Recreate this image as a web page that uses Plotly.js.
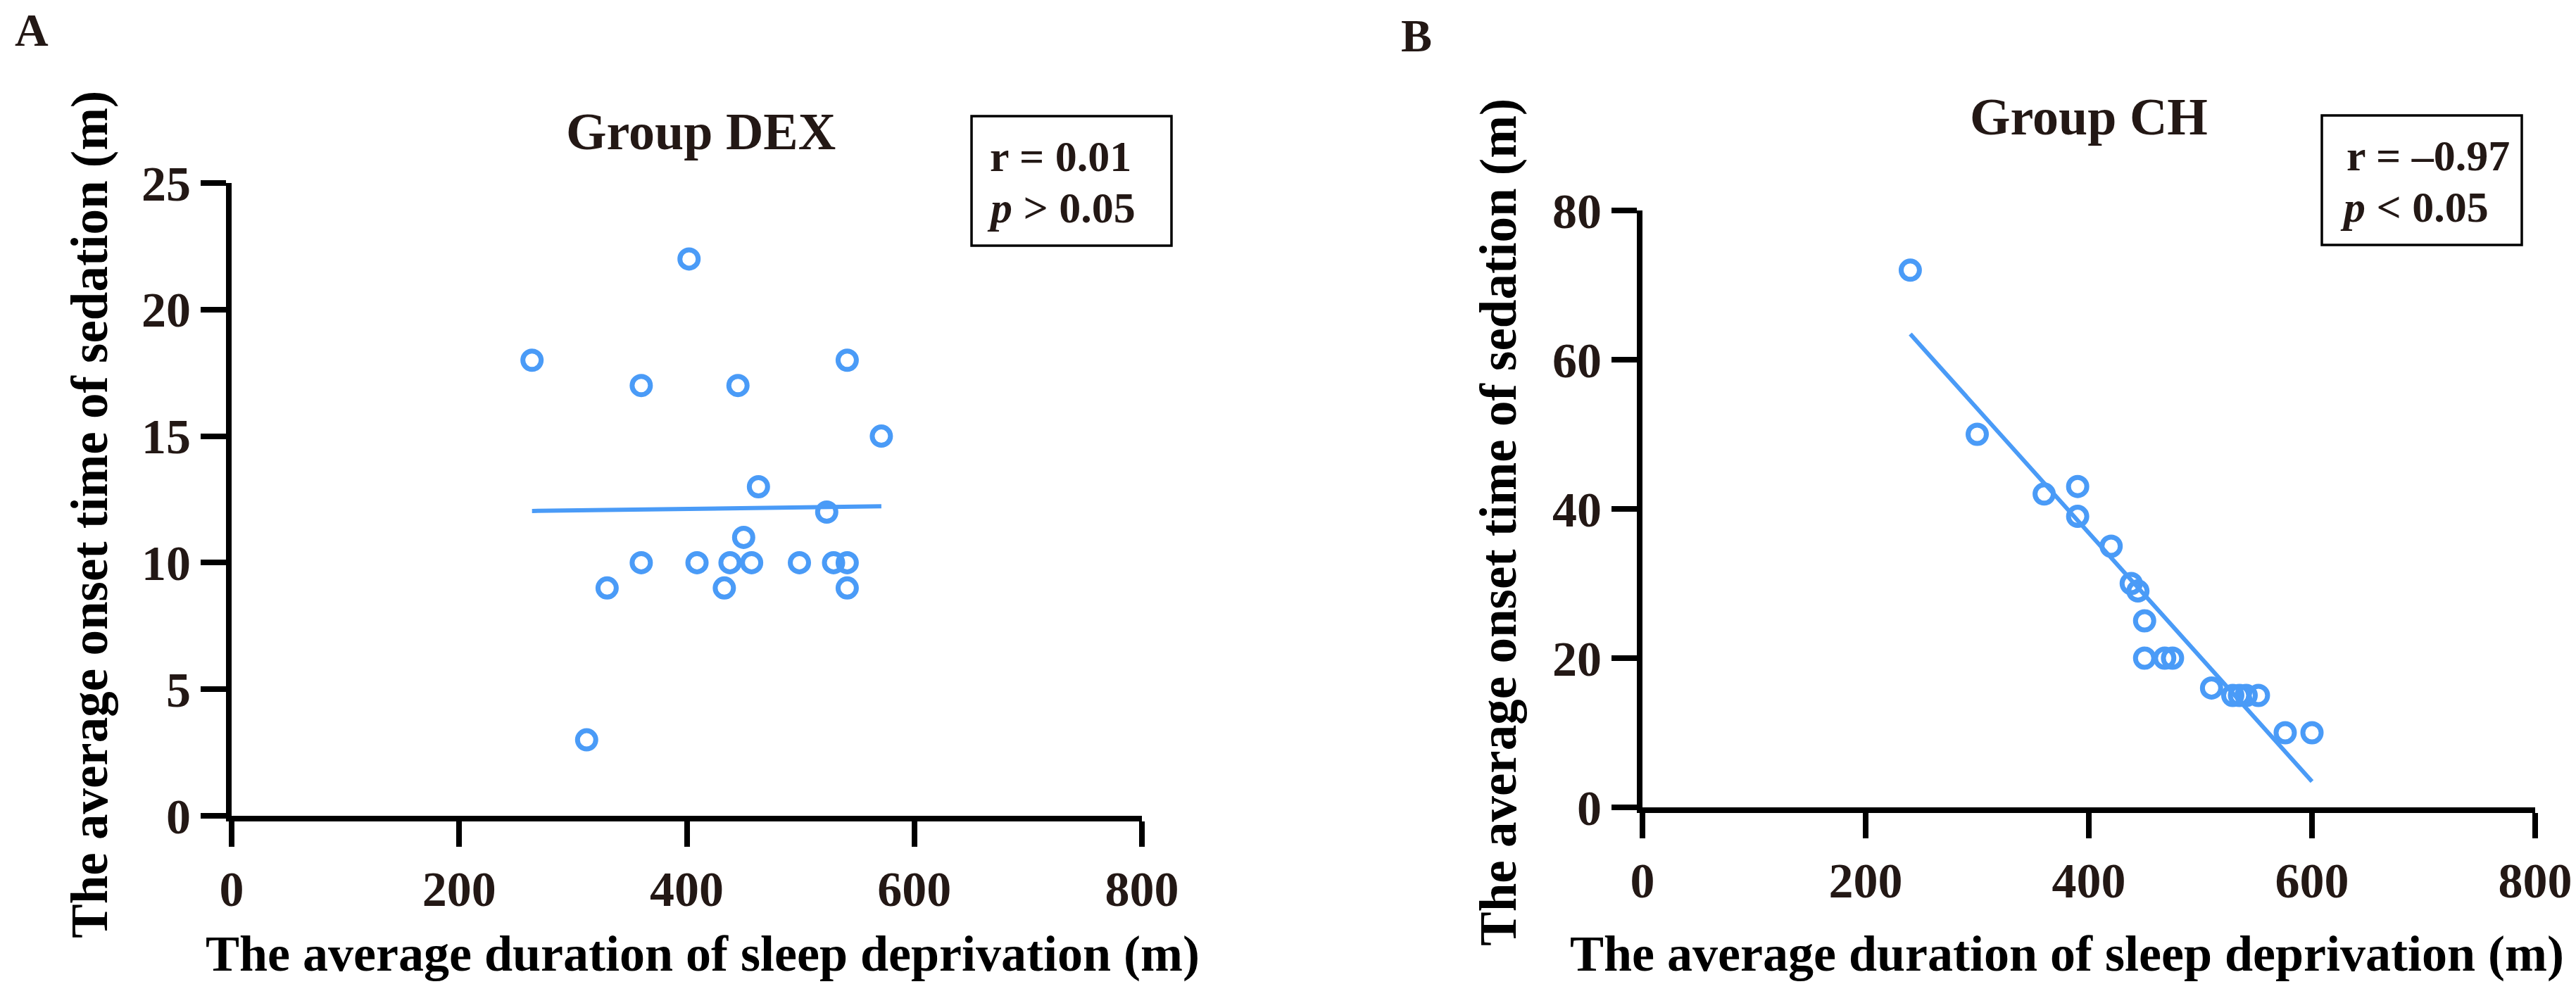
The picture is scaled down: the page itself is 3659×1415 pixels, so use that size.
<!DOCTYPE html>
<html>
<head>
<meta charset="utf-8">
<script src="https://cdn.plot.ly/plotly-3.0.1.min.js"></script>
<style>
  html, body { margin: 0; padding: 0; background: #ffffff; }
  #chart { width: 3659px; height: 1415px; }
</style>
</head>
<body>
<div id="chart"></div>
<script>
// ---- Data ----
const dexDuration = [402, 264, 360, 445, 541, 571, 463, 523, 450, 360, 409, 438, 457, 499, 529, 541, 330, 433, 541, 312];
const dexOnset    = [22, 18, 17, 17, 18, 15, 13, 12, 11, 10, 10, 10, 10, 10, 10, 10, 9, 9, 9, 3];
const chDuration  = [240, 300, 360, 390, 390, 420, 438, 444, 450, 450, 468, 475, 510, 529, 535, 541, 552, 576, 600];
const chOnset     = [72, 50, 42, 43, 39, 35, 30, 29, 25, 20, 20, 20, 16, 15, 15, 15, 15, 10, 10];

const xTicks = [0, 200, 400, 600, 800];
const yTicksDex = [0, 5, 10, 15, 20, 25];
const yTicksCh = [0, 20, 40, 60, 80];

const panelLabels = ['A', 'B'];
const groupTitles = ['Group DEX', 'Group CH'];
const statLinesDex = ['r = 0.01', '<i>p</i> > 0.05'];
const statLinesCh = ['r = –0.97', '<i>p</i> < 0.05'];
const xTitle = 'The average duration of sleep deprivation (m)';
const yTitle = 'The average onset time of sedation (m)';

// ---- Least-squares fit line over the data range ----
function fitLine(xs, ys) {
  const n = xs.length;
  const mx = xs.reduce((a, b) => a + b, 0) / n;
  const my = ys.reduce((a, b) => a + b, 0) / n;
  let sxy = 0, sxx = 0;
  for (let i = 0; i < n; i++) { sxy += (xs[i] - mx) * (ys[i] - my); sxx += (xs[i] - mx) ** 2; }
  const b = sxy / sxx, a = my - b * mx;
  const x0 = Math.min(...xs), x1 = Math.max(...xs);
  return { x: [x0, x1], y: [a + b * x0, a + b * x1] };
}
const fitDex = fitLine(dexDuration, dexOnset);
const fitCh = fitLine(chDuration, chOnset);

// ---- Styling ----
const W = 3659, H = 1415;
const px = v => v / W;
const py = v => 1 - v / H;
const blue = '#4a9bf7';
const ink = '#231815';
const serif = 'Liberation Serif, Times New Roman, serif';

const markerStyle = { symbol: 'circle-open', size: 26, color: blue, line: { width: 7, color: blue } };
const lineStyle = { color: blue, width: 6 };

const traces = [
  { type: 'scatter', mode: 'markers', x: dexDuration, y: dexOnset, xaxis: 'x', yaxis: 'y', marker: markerStyle, cliponaxis: false, hoverinfo: 'x+y' },
  { type: 'scatter', mode: 'lines', x: fitDex.x, y: fitDex.y, xaxis: 'x', yaxis: 'y', line: lineStyle, hoverinfo: 'skip' },
  { type: 'scatter', mode: 'markers', x: chDuration, y: chOnset, xaxis: 'x2', yaxis: 'y2', marker: markerStyle, cliponaxis: false, hoverinfo: 'x+y' },
  { type: 'scatter', mode: 'lines', x: fitCh.x, y: fitCh.y, xaxis: 'x2', yaxis: 'y2', line: lineStyle, hoverinfo: 'skip' }
];

function axisBase(extra) {
  return Object.assign({
    showline: true, linewidth: 8, linecolor: '#000000',
    ticks: 'outside', ticklen: 36, tickwidth: 8, tickcolor: '#000000',
    showgrid: false, zeroline: false, fixedrange: true,
    tickfont: { family: serif, size: 70, color: ink, weight: 'bold' },
    tickmode: 'array'
  }, extra);
}

const layout = {
  width: W, height: H,
  margin: { l: 0, r: 0, t: 0, b: 0 },
  paper_bgcolor: '#ffffff', plot_bgcolor: '#ffffff',
  showlegend: false,
  font: { family: serif, color: ink },
  xaxis: axisBase({ domain: [px(329), px(1622)], range: [0, 800], anchor: 'y', tickvals: xTicks }),
  yaxis: axisBase({ domain: [py(1159), py(260)], range: [0, 25], anchor: 'x', tickvals: yTicksDex }),
  xaxis2: axisBase({ domain: [px(2333), px(3601)], range: [0, 800], anchor: 'y2', tickvals: xTicks }),
  yaxis2: axisBase({ domain: [py(1147), py(299)], range: [0, 80], anchor: 'x2', tickvals: yTicksCh }),
  shapes: [
    { type: 'rect', xref: 'paper', yref: 'paper', x0: px(1380), x1: px(1664), y0: py(349), y1: py(165),
      line: { color: '#000000', width: 3.5 }, fillcolor: 'rgba(0,0,0,0)' },
    { type: 'rect', xref: 'paper', yref: 'paper', x0: px(3298), x1: px(3582), y0: py(348), y1: py(164),
      line: { color: '#000000', width: 3.5 }, fillcolor: 'rgba(0,0,0,0)' }
  ],
  annotations: []
};

function addText(text, xPix, yPix, size, xanchor, angle, color) {
  layout.annotations.push({
    xref: 'paper', yref: 'paper', x: px(xPix), y: py(yPix),
    xanchor: xanchor || 'left', yanchor: 'middle', showarrow: false, text: text,
    textangle: angle || 0,
    font: { family: serif, size: size, color: color || ink, weight: 'bold' }
  });
}
// Panel labels
addText(panelLabels[0], 19, 43, 66, 'left');
addText(panelLabels[1], 1988, 50, 66, 'left');
// Group titles
addText(groupTitles[0], 995, 187, 74, 'center');
addText(groupTitles[1], 2967, 166, 74, 'center');
// Stats
addText(statLinesDex[0], 1404, 222, 62, 'left');
addText(statLinesDex[1], 1400, 295, 62, 'left');
addText(statLinesCh[0], 3331, 221, 62, 'left');
addText(statLinesCh[1], 3322, 294, 62, 'left');
// Axis titles
addText(xTitle, 998, 1355, 72, 'center', 0, '#000000');
addText(xTitle, 2936, 1355, 72, 'center', 0, '#000000');
addText(yTitle, 127, 731, 73, 'center', -90, '#000000');
addText(yTitle, 2128, 742, 73, 'center', -90, '#000000');

Plotly.newPlot('chart', traces, layout, { displayModeBar: false, staticPlot: true });
</script>
</body>
</html>
